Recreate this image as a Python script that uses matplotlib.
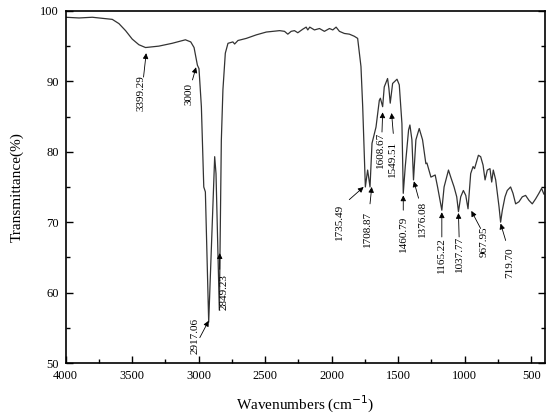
import numpy as np
import matplotlib
matplotlib.use("Agg")
import matplotlib.pyplot as plt
from matplotlib.ticker import MultipleLocator

# FTIR spectrum
wavenumber = [4000, 3900, 3800, 3700, 3650, 3600, 3550, 3500, 3450, 3400,
              3350, 3300, 3200, 3140, 3100, 3060, 3035, 3010, 2998, 2980,
              2962, 2950, 2925, 2880, 2870, 2845, 2830, 2818, 2800,
              2780, 2743, 2730, 2705, 2642, 2567, 2492, 2392, 2355,
              2330, 2305, 2280, 2255, 2218, 2192, 2180, 2165, 2130, 2092,
              2055, 2017, 1992, 1967, 1942, 1905, 1867, 1830, 1805, 1792,
              1780, 1767, 1755, 1747, 1730, 1712, 1697, 1667, 1642, 1634,
              1617, 1605, 1580, 1570, 1560, 1542, 1509, 1492, 1472, 1462,
              1447, 1422, 1412, 1397, 1385, 1367, 1342, 1317, 1292, 1284,
              1254, 1222, 1204, 1172, 1155, 1122, 1105, 1080, 1060, 1047,
              1030, 1010, 992, 975, 955, 937, 926, 897, 880, 862,
              847, 830, 810, 797, 785, 767, 742, 730, 717, 697,
              680, 655, 637, 617, 592, 567, 542, 517, 492, 467,
              442, 422, 405]
transmittance = [99.1, 99.0, 99.1, 98.9, 98.8, 98.2, 97.2, 96.0, 95.2, 94.8,
                 94.9, 95.0, 95.4, 95.7, 95.9, 95.6, 94.8, 92.3, 91.8, 86.4,
                 75.0, 74.3, 55.8, 79.3, 76.9, 57.5, 81.6, 88.8, 94.0,
                 95.4, 95.6, 95.3, 95.8, 96.1, 96.6, 97.0, 97.2, 97.1,
                 96.7, 97.1, 97.2, 96.9, 97.4, 97.7, 97.3, 97.7, 97.3, 97.5,
                 97.1, 97.5, 97.3, 97.7, 97.1, 96.8, 96.7, 96.4, 96.1, 94.0,
                 92.1, 86.4, 79.3, 75.0, 77.4, 75.0, 81.2, 83.5, 87.3, 87.6,
                 86.4, 89.2, 90.4, 89.0, 86.9, 89.7, 90.3, 89.5, 84.0, 74.1,
                 77.9, 83.1, 83.8, 81.7, 76.0, 81.7, 83.3, 81.7, 78.3, 78.4,
                 76.4, 76.7, 75.0, 71.7, 75.0, 77.4, 76.4, 75.0, 73.6, 71.5,
                 73.6, 74.5, 73.8, 71.9, 76.9, 77.9, 77.6, 79.5, 79.3, 78.1,
                 76.0, 77.4, 77.6, 75.7, 77.4, 76.0, 72.2, 70.0, 71.7, 73.6,
                 74.5, 75.0, 74.1, 72.6, 72.9, 73.6, 73.8, 73.1, 72.6, 73.3,
                 74.1, 74.8, 74.0]

# peak labels: text, text centre, arrow start, arrow tip
peak_labels = ["3399.29", "3000", "2917.06", "2849.23", "1735.49", "1708.87",
               "1608.67", "1549.51", "1460.79", "1376.08", "1165.22",
               "1037.77", "967.95", "719.70"]
label_xy = [(3432, 88.3), (3072, 88.2), (3030, 53.9), (2810, 60.1),
            (1943, 70.0), (1730, 69.1), (1630, 80.3), (1542, 79.0),
            (1462, 68.4), (1317, 70.5), (1172, 65.3), (1042, 65.5),
            (855, 67.2), (665, 64.3)]
arrow_from = [(3415, 90.6), (3047, 90.2), (2992, 53.6), (2842, 63.3),
              (1868, 73.2), (1712, 72.6), (1622, 82.8), (1537, 82.6),
              (1462, 71.7), (1347, 73.4), (1172, 67.9), (1042, 67.9),
              (880, 69.1), (692, 67.4)]
arrow_to = [(3395, 94.0), (3020, 92.0), (2925, 56.0), (2842, 65.6),
            (1760, 75.0), (1699, 75.0), (1617, 85.6), (1550, 85.5),
            (1462, 73.8), (1382, 75.8), (1172, 71.4), (1047, 71.3),
            (950, 71.6), (730, 69.8)]

plt.rcParams['font.family'] = ['Liberation Serif', 'DejaVu Serif']

fig = plt.figure(figsize=(5.5, 4.2), dpi=100)
ax = fig.add_axes([0.1195, 0.1357, 0.8705, 0.8383])

ax.plot(wavenumber, transmittance, color='#333333', lw=0.9)

for lab, txy, a0, a1 in zip(peak_labels, label_xy, arrow_from, arrow_to):
    ax.text(txy[0], txy[1], lab, rotation=90, ha='center', va='center',
            fontsize=8)
    ax.annotate('', xy=a1, xytext=a0,
                arrowprops=dict(arrowstyle='-|>', color='black', lw=0.6,
                                mutation_scale=8, shrinkA=0, shrinkB=0))

ax.set_xlim(4000, 400)
ax.set_ylim(50, 100)
ax.xaxis.set_major_locator(MultipleLocator(500))
ax.xaxis.set_minor_locator(MultipleLocator(250))
ax.yaxis.set_major_locator(MultipleLocator(10))
ax.yaxis.set_minor_locator(MultipleLocator(5))
ax.tick_params(which='both', direction='in', right=True, labelsize=9)
ax.tick_params(which='major', length=5, width=1)
ax.tick_params(which='minor', length=3, width=1)
ax.tick_params(axis='x', pad=5)
ax.tick_params(axis='y', pad=5)
for s in ax.spines.values():
    s.set_linewidth(1.2)

ax.set_xlabel('Wavenumbers (cm$^{-1}$)', fontsize=11, labelpad=9)
ax.set_ylabel('Transmittance(%)', fontsize=11, labelpad=12)

fig.savefig('out.png', dpi=100)
